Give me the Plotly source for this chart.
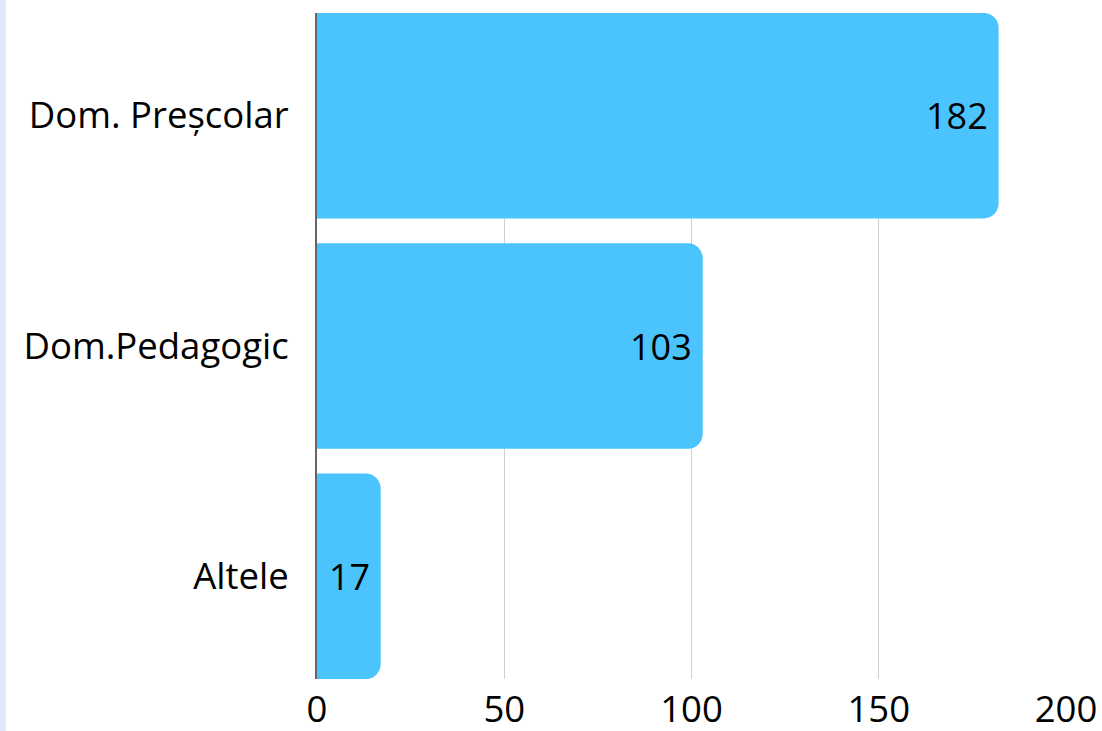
import plotly.graph_objects as go

categorii = ["Dom. Preșcolar", "Dom.Pedagogic", "Altele"]
valori = [182, 103, 17]
x_ticks = [0, 50, 100, 150, 200]

W, H = 1102, 731
ml, mr, mt, mb = 317, 36, 13, 52
pw = W - ml - mr
ph = H - mt - mb

fig = go.Figure()
fig.add_trace(go.Bar(
    y=categorii, x=valori, orientation="h",
    marker=dict(color="#4BC4FE", cornerradius=15, line=dict(width=0)),
    textposition="none", hoverinfo="skip",
))

# etichete de valoare la capatul barelor
for c, v in zip(categorii, valori):
    fig.add_annotation(x=v, y=c, text=str(v), showarrow=False,
                       xanchor="right", xshift=-9,
                       font=dict(size=36, color="#000000", family="Open Sans"))

fig.update_layout(
    width=W, height=H,
    margin=dict(l=ml, r=mr, t=mt, b=mb, pad=0),
    paper_bgcolor="white", plot_bgcolor="white",
    font=dict(family="Open Sans", size=36.5, color="#000000"),
    bargap=0.1075, showlegend=False,
    shapes=[dict(type="rect", xref="paper", yref="paper",
                 x0=-ml / pw, x1=(6 - ml) / pw, y0=-mb / ph, y1=1 + mt / ph,
                 fillcolor="#DFE7FD", line=dict(width=0), layer="below")],
)
fig.update_xaxes(range=[0, 200], tickvals=x_ticks, showgrid=True,
                 gridcolor="#CFCFCF", gridwidth=1, zeroline=False,
                 showline=False, ticks="", ticklabelstandoff=5,
                 automargin=False, fixedrange=True)
fig.update_yaxes(range=[2.446, -0.446], showgrid=False, showline=True,
                 linecolor="#666666", linewidth=2, ticks="", ticklabelstandoff=19,
                 automargin=False, fixedrange=True)

fig.write_html("out.html", config={"displayModeBar": False},
               post_script="document.body.style.margin='0';")
